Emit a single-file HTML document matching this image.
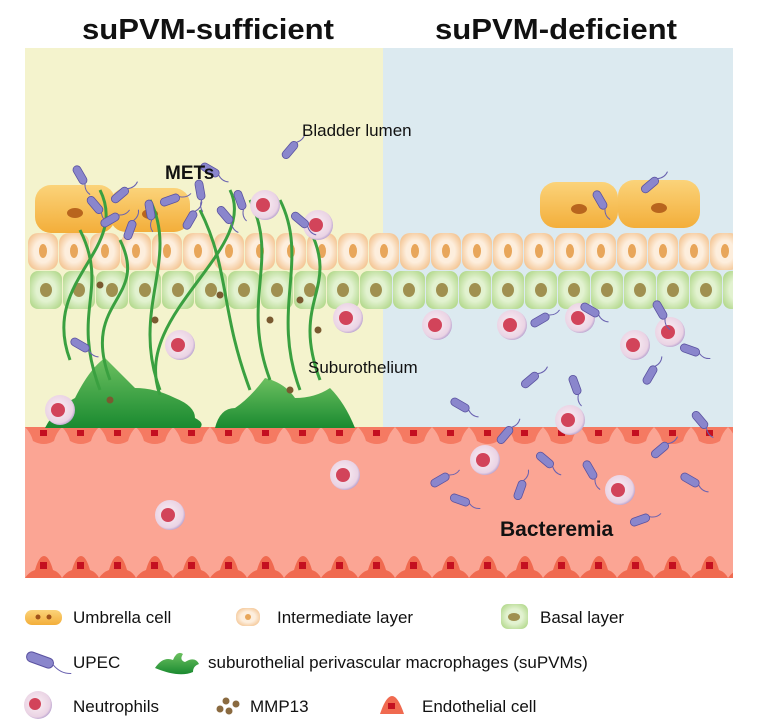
<!DOCTYPE html>
<html><head><meta charset="utf-8"><style>
html,body{margin:0;padding:0;background:#fff}
svg{display:block}
text{font-family:"Liberation Sans",Arial,sans-serif;fill:#111}
</style></head><body>
<svg id="s" width="760" height="727" viewBox="0 0 760 727" xmlns="http://www.w3.org/2000/svg">
<defs>
<clipPath id="cp"><rect x="25" y="48" width="708" height="531"/></clipPath>
<radialGradient id="ic" cx="50%" cy="50%" r="60%"><stop offset="0.5" stop-color="#fdeedd"/><stop offset="1" stop-color="#f3c28e"/></radialGradient>
<radialGradient id="bc" cx="50%" cy="50%" r="60%"><stop offset="0.5" stop-color="#e2f2d0"/><stop offset="1" stop-color="#b4d98e"/></radialGradient>
<radialGradient id="nc" cx="45%" cy="45%" r="60%"><stop offset="0" stop-color="#fbf0f4"/><stop offset="0.8" stop-color="#ead3e4"/><stop offset="1" stop-color="#a892c8"/></radialGradient>
<linearGradient id="um" x1="0" y1="0" x2="0" y2="1"><stop offset="0" stop-color="#fbd37a"/><stop offset="1" stop-color="#f3ae3a"/></linearGradient>
<linearGradient id="mg" x1="0" y1="0" x2="0" y2="1"><stop offset="0" stop-color="#6cc060"/><stop offset="1" stop-color="#1a8a30"/></linearGradient>
</defs>
<text x="208" y="39" font-size="29" font-weight="bold" text-anchor="middle" textLength="252" lengthAdjust="spacingAndGlyphs">suPVM-sufficient</text>
<text x="556" y="39" font-size="29" font-weight="bold" text-anchor="middle" textLength="242" lengthAdjust="spacingAndGlyphs">suPVM-deficient</text>
<rect x="25" y="48" width="358" height="380" fill="#f4f3cd"/>
<rect x="383" y="48" width="350" height="380" fill="#dceaf0"/>
<rect x="25" y="427" width="708" height="151" fill="#fba594"/>
<g id="g" clip-path="url(#cp)"></g>
<text x="302" y="136" font-size="17">Bladder lumen</text>
<text x="165" y="179" font-size="19" font-weight="bold">METs</text>
<text x="308" y="373" font-size="17">Suburothelium</text>
<text x="500" y="536" font-size="21" font-weight="bold">Bacteremia</text>
<g>
<rect x="25" y="610" width="37" height="15" rx="7" fill="url(#um)"/><circle cx="38" cy="617" r="2.5" fill="#a0521a"/><circle cx="49" cy="617" r="2.5" fill="#a0521a"/>
<text x="73" y="623" font-size="17">Umbrella cell</text>
<rect x="236" y="608" width="24" height="18" rx="8" fill="url(#ic)"/><circle cx="248" cy="617" r="3" fill="#e8a65a"/>
<text x="277" y="623" font-size="17">Intermediate layer</text>
<rect x="501" y="604" width="27" height="25" rx="7" fill="url(#bc)"/><ellipse cx="514" cy="617" rx="6" ry="4" fill="#a09050"/>
<text x="540" y="623" font-size="17">Basal layer</text>
<g transform="translate(40,660) rotate(20)"><rect x="-14" y="-5" width="28" height="10" rx="5" fill="#8a86cc" stroke="#5a52a0"/><path d="M14 0 q10 6 20 2" stroke="#6a62b0" fill="none"/></g>
<text x="73" y="668" font-size="17">UPEC</text>
<path d="M155 668 q8-12 18-8 q4-10 10-6 q-4 6 2 8 q10-6 14 2 q-6 2-6 8 q-14 6-38-4z" fill="url(#mg)"/>
<text x="208" y="668" font-size="17">suburothelial perivascular macrophages (suPVMs)</text>
<circle cx="38" cy="705" r="14" fill="url(#nc)"/><circle cx="35" cy="704" r="6" fill="#d2445a"/>
<text x="73" y="712" font-size="17">Neutrophils</text>
<circle cx="226" cy="701" r="3.5" fill="#8a6a40"/><circle cx="220" cy="709" r="3.5" fill="#8a6a40"/><circle cx="229" cy="711" r="3.5" fill="#8a6a40"/><circle cx="236" cy="704" r="3.5" fill="#8a6a40"/>
<text x="250" y="712" font-size="17">MMP13</text>
<path d="M380 714 q6-18 12-18 q6 0 12 18z" fill="#f06a50"/><rect x="388" y="703" width="7" height="6" fill="#c41020"/>
<text x="422" y="712" font-size="17">Endothelial cell</text>
</g>
</svg>
<script>
var g=document.getElementById('g'),h='';
for(var x=25;x<733;x+=37){
 h+='<path d="M'+x+' 427 h37 q-6 6-8 14 q-10 6-21 0 q-2-8-8-14z" fill="#f57a62"/><rect x="'+(x+15)+'" y="430" width="7" height="6" fill="#c41020"/>';
 h+='<path d="M'+x+' 578 q4-6 10-8 q4-14 9-14 q5 0 9 14 q6 2 9 8z" fill="#f06a50"/><rect x="'+(x+15)+'" y="562" width="7" height="7" fill="#c41020"/>';
}
for(var x=28;x<733;x+=31){h+='<rect x="'+x+'" y="233" width="30" height="37" rx="10" fill="url(#ic)"/><ellipse cx="'+(x+15)+'" cy="251" rx="4" ry="7" fill="#e8a65a"/>';}
for(var x=30;x<733;x+=33){h+='<rect x="'+x+'" y="271" width="32" height="38" rx="8" fill="url(#bc)"/><ellipse cx="'+(x+16)+'" cy="290" rx="6" ry="7" fill="#a09050"/>';}
[[35,185,80,48],[110,188,80,44],[540,182,78,46],[618,180,82,48]].forEach(function(u){h+='<rect x="'+u[0]+'" y="'+u[1]+'" width="'+u[2]+'" height="'+u[3]+'" rx="16" fill="url(#um)"/><ellipse cx="'+(u[0]+u[2]/2)+'" cy="'+(u[1]+u[3]/2+4)+'" rx="8" ry="5" fill="#b8651e"/>';});
h+='<path d="M45 428 q10-20 30-30 q15-30 30-40 q20 20 30 30 q20 0 40 10 q20 8 20 20 q10 5 5 10z" fill="url(#mg)"/>';
h+='<path d="M215 428 q5-20 20-20 q15-10 30-30 q20 5 30 20 q20 0 35-10 q15 15 25 40z" fill="url(#mg)"/>';
var st=[[80,230,100,390],[120,240,110,380],[150,200,160,390],[200,210,250,390],[250,200,270,380],[280,200,300,390],[310,230,320,380],[100,190,70,360],[230,190,160,395]];
st.forEach(function(s){h+='<path d="M'+s[0]+' '+s[1]+' C'+(s[0]+30)+' '+(s[1]+60)+' '+(s[2]-30)+' '+(s[3]-80)+' '+s[2]+' '+s[3]+'" stroke="#3aa040" stroke-width="3" fill="none"/>';});
[[265,205],[318,225],[348,318],[180,345],[60,410],[345,475],[170,515],[437,325],[512,325],[580,318],[635,345],[670,332],[485,460],[620,490],[570,420]].forEach(function(n){h+='<circle cx="'+n[0]+'" cy="'+n[1]+'" r="15" fill="url(#nc)"/><circle cx="'+(n[0]-2)+'" cy="'+n[1]+'" r="7" fill="#d2445a"/>';});
var b=[[80,175,60],[120,195,-40],[150,210,80],[190,220,-60],[210,170,30],[240,200,70],[290,150,-50],[300,220,40],[130,230,-70],[95,205,50],[170,200,-20],[225,215,50],[200,190,80],[110,220,-30],[590,310,30],[540,320,-30],[660,310,60],[690,350,20],[530,380,-40],[575,385,70],[650,375,-60],[460,405,30],[505,435,-50],[545,460,40],[460,500,20],[440,480,-30],[590,470,60],[660,450,-40],[690,480,30],[640,520,-20],[700,420,50],[520,490,-70],[650,185,-40],[600,200,60],[80,345,30]];
b.forEach(function(q){h+='<g transform="translate('+q[0]+','+q[1]+') rotate('+q[2]+')"><rect x="-10" y="-4" width="20" height="8" rx="4" fill="#8a86cc" stroke="#5a52a0" stroke-width="0.8"/><path d="M10 0 q6 4 12 1" stroke="#6a62b0" fill="none"/></g>';});
[[100,285],[155,320],[270,320],[300,300],[318,330],[290,390],[110,400],[220,295]].forEach(function(d){h+='<circle cx="'+d[0]+'" cy="'+d[1]+'" r="3.5" fill="#7a5a30"/>';});
g.innerHTML=h;
</script>
</body></html>
